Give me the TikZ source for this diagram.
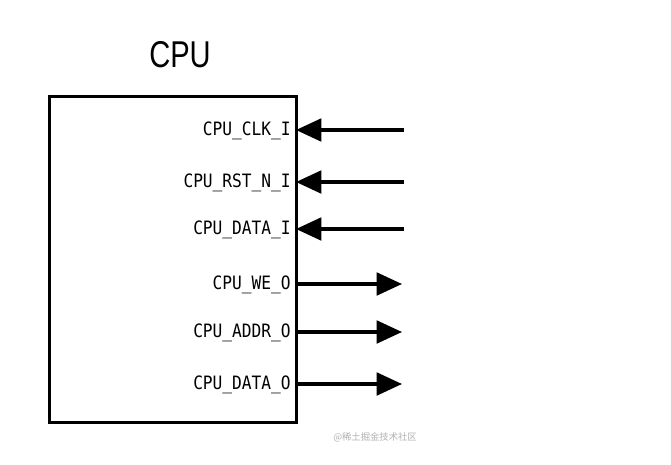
\documentclass[tikz,border=0pt]{standalone}
\usepackage{fontspec}
\setmainfont{Liberation Sans}[FakeStretch=0.78]
\newfontfamily\lblfont{DejaVu Sans Mono}[FakeStretch=0.88]
\newfontfamily\cjk{Noto Sans CJK SC}
\usetikzlibrary{arrows.meta}
\begin{document}
\begin{tikzpicture}[x=0.75pt,y=-0.75pt,
  sig/.style={line width=2.3pt,-{Triangle[length=19pt,width=17pt]}},
  lbl/.style={anchor=east,inner sep=0pt,font=\lblfont\fontsize{13.8}{16}\selectfont},
  blk/.style={draw,line width=2.3pt}]
\useasboundingbox (0,0) rectangle (671,464);
\fill[white] (0,0) rectangle (671,464);
\node[blk,minimum width=247*0.75pt,minimum height=326*0.75pt,inner sep=0pt,anchor=north west] (cpu) at (48,95) {};
\node[font=\fontsize{28}{32}\selectfont] (title) at (180,55) {CPU};
% inputs
\coordinate (i1) at (404,130); \coordinate (e1) at (296,130);
\coordinate (i2) at (404,182); \coordinate (e2) at (296,182);
\coordinate (i3) at (404,229); \coordinate (e3) at (296,229);
\draw[sig] (i1) -- (e1);
\draw[sig] (i2) -- (e2);
\draw[sig] (i3) -- (e3);
\node[lbl] (l1) at (291,131) {CPU\_CLK\_I};
\node[lbl] (l2) at (291,183) {CPU\_RST\_N\_I};
\node[lbl] (l3) at (291,230) {CPU\_DATA\_I};
% outputs
\coordinate (s4) at (295,284); \coordinate (o4) at (402,284);
\coordinate (s5) at (295,332); \coordinate (o5) at (402,332);
\coordinate (s6) at (295,384); \coordinate (o6) at (402,384);
\draw[sig] (s4) -- (o4);
\draw[sig] (s5) -- (o5);
\draw[sig] (s6) -- (o6);
\node[lbl] (l4) at (291,285) {CPU\_WE\_O};
\node[lbl] (l5) at (291,333) {CPU\_ADDR\_O};
\node[lbl] (l6) at (291,385) {CPU\_DATA\_O};
\node[text=black!30,font=\cjk\fontsize{7}{8}\selectfont] (wm) at (375,437) {@稀土掘金技术社区};
\end{tikzpicture}
\end{document}
